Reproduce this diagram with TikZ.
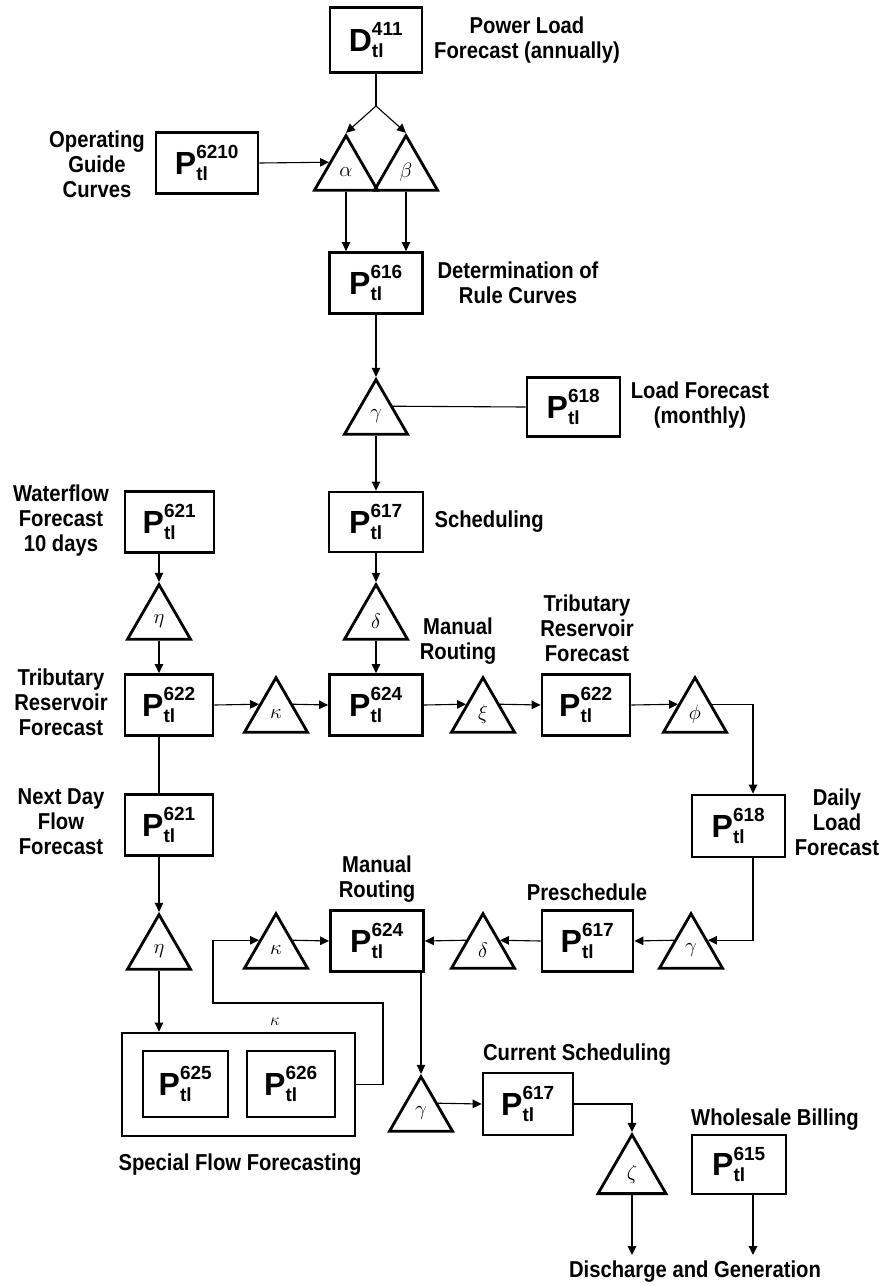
\documentclass[tikz,border=0pt]{standalone}
\usepackage{amsmath}
\usepackage{fontspec}
\setmainfont{Liberation Sans}[FakeStretch=0.88]
\newfontfamily\boxfont{Liberation Sans}
\usetikzlibrary{shapes.geometric,arrows.meta}
\DeclareMathSizes{32}{32}{19}{15}
\newcommand{\pn}[2]{$\text{#1}^{\text{#2}}_{\text{tl}}$}

\begin{document}
\begin{tikzpicture}[x=1pt, y=-1pt, line width=1.1pt,
	>={Triangle[length=9pt,width=8.5pt]},
	box/.style={draw, line width=2.8pt, inner sep=0pt, minimum width=93pt, minimum height=61pt,
		font=\boxfont\bfseries\fontsize{32}{32}\selectfont},
	tri/.style={regular polygon, regular polygon sides=3, draw, line width=2.8pt, inner sep=0pt,
		minimum size=72.7pt, font=\fontsize{21}{21}\selectfont},
	lbl/.style={align=center, inner sep=0pt, font=\bfseries\fontsize{23}{25}\selectfont}]
\useasboundingbox (0,0) rectangle (885,1286);

% top: annual load and rule curves
\node[box, minimum width=92pt, minimum height=65pt] (D411) at (376,40) {\pn{D}{411}};
\node[box, minimum width=102pt] (P6210) at (207,163) {\pn{P}{6210}};
\node[tri] (alpha) at (346,172) {$\alpha$};
\node[tri] (beta) at (406,172) {$\beta$};
\node[box] (P616) at (376,283) {\pn{P}{616}};
\node[tri] (gamma1) at (376,416) {$\gamma$};
\node[box, minimum height=59pt] (P618m) at (573.5,407) {\pn{P}{618}};
\node[box, minimum width=94pt, minimum height=60pt] (P617) at (376,522) {\pn{P}{617}};
\node[box, minimum width=89pt] (P621) at (169.5,522) {\pn{P}{621}};
\node[tri] (eta1) at (159,621) {$\eta$};
\node[tri] (delta1) at (376,621) {$\delta$};
\coordinate (split) at (376,106);

% middle row
\node[box, minimum width=88pt] (P622) at (169,705) {\pn{P}{622}};
\node[tri] (kappa1) at (276,714) {$\kappa$};
\node[box] (P624) at (376,705) {\pn{P}{624}};
\node[tri] (xi) at (483,714) {$\xi$};
\node[box, minimum width=88pt] (P622r) at (586,705) {\pn{P}{622}};
\node[tri] (phi) at (695,714) {$\phi$};
\node[box, minimum height=62pt] (P618d) at (738.5,826) {\pn{P}{618}};
\node[box, minimum width=88pt] (P621n) at (169,825) {\pn{P}{621}};
\coordinate (tapD) at (753,826);

% lower row
\node[tri] (eta2) at (159,951) {$\eta$};
\node[tri] (kappa2) at (276,950) {$\kappa$};
\node[box] (P624b) at (377,941) {\pn{P}{624}};
\node[tri] (delta2) at (483,950) {$\delta$};
\node[box, minimum width=91pt] (P617b) at (587.5,941) {\pn{P}{617}};
\node[tri] (gamma3) at (691,950) {$\gamma$};
\node[draw, line width=2.8pt, minimum width=233pt, minimum height=103pt] (bigbox) at (238.5,1084.5) {};
\node[box, minimum width=85pt, minimum height=66pt] (P625) at (185.5,1084) {\pn{P}{625}};
\node[box, minimum width=88pt, minimum height=66pt] (P626) at (291,1084) {\pn{P}{626}};
\node[font=\fontsize{17}{17}\selectfont, inner sep=0pt] (kappalbl) at (275,1022) {$\kappa$};
\coordinate (fbR) at (383,1003);
\coordinate (fbL) at (213,1003);
\node[tri] (gamma2) at (421,1113) {$\gamma$};
\node[box, minimum width=90pt, minimum height=62pt] (P617c) at (528,1104) {\pn{P}{617}};
\node[tri, minimum size=78.5pt] (zeta) at (632,1174) {$\zeta$};
\node[box, minimum width=94pt, minimum height=59pt] (P615) at (739,1164.5) {\pn{P}{615}};
\coordinate (out1) at (632,1255);
\coordinate (out2) at (753,1255);

% labels
\node[lbl] (lPower) at (527,40) {Power Load\\Forecast (annually)};
\node[lbl] (lOper) at (97,164) {Operating\\Guide\\Curves};
\node[lbl] (lRule) at (518,283) {Determination of\\Rule Curves};
\node[lbl] (lMonth) at (700,405) {Load Forecast\\(monthly)};
\node[lbl, anchor=west] (lSched) at (434,522) {Scheduling};
\node[lbl] (lWater) at (61,521) {Waterflow\\Forecast\\10 days};
\node[lbl] (lTribL) at (61,702) {Tributary\\Reservoir\\Forecast};
\node[lbl] (lManA) at (458,641) {Manual\\Routing};
\node[lbl] (lTribR) at (587,628) {Tributary\\Reservoir\\Forecast};
\node[lbl] (lNext) at (61,822) {Next Day\\Flow\\Forecast};
\node[lbl] (lDaily) at (837,822) {Daily\\Load\\Forecast};
\node[lbl] (lManB) at (377,879) {Manual\\Routing};
\node[lbl] (lPre) at (587,892) {Preschedule};
\node[lbl] (lCur) at (577,1055) {Current Scheduling};
\node[lbl] (lWhole) at (775,1120) {Wholesale Billing};
\node[lbl] (lSpecial) at (240,1165) {Special Flow Forecasting};
\node[lbl] (lDis) at (695,1272) {Discharge and Generation};

% connectors
\draw (D411.south) -- (split);
\draw[->] (split) -- (alpha.corner 1);
\draw[->] (split) -- (beta.corner 1);
\draw[->] (P6210.east) -- (alpha.side 1);
\draw[->] (alpha.side 2) -- (alpha.side 2 |- P616.north);
\draw[->] (beta.side 2) -- (beta.side 2 |- P616.north);
\draw[->] (P616.south) -- (gamma1.corner 1);
\draw (gamma1.side 3) -- (P618m.west);
\draw[->] (gamma1.side 2) -- (P617.north);
\draw[->] (P617.south) -- (delta1.corner 1);
\draw[->] (delta1.side 2) -- (P624.north);
\draw[->] (P621.south -| eta1) -- (eta1.corner 1);
\draw[->] (eta1.side 2) -- (eta1.side 2 |- P622.north);
\draw[->] (P622.east) -- (kappa1.side 1);
\draw[->] (kappa1.side 3) -- (P624.west);
\draw[->] (P624.east) -- (xi.side 1);
\draw[->] (xi.side 3) -- (P622r.west);
\draw[->] (P622r.east) -- (phi.side 1);
\draw[->] (phi.side 3) -| (P618d.north -| tapD);
\draw (P622.south -| eta1) -- (P621n.north -| eta1);
\draw[->] (P621n.south -| eta2) -- (eta2.corner 1);
\draw[->] (eta2.side 2) -- (eta2.side 2 |- bigbox.north);
\draw[->] (P618d.south -| tapD) |- (gamma3.side 3);
\draw[->] (gamma3.side 1) -- (P617b.east);
\draw[->] (P617b.west) -- (delta2.side 3);
\draw[->] (delta2.side 1) -- (P624b.east);
\draw[->] (bigbox.east) -| (fbR) -- (fbL) |- (kappa2.side 1);
\draw[->] (kappa2.side 3) -- (P624b.west);
\draw[->] (P624b.south -| gamma2) -- (gamma2.corner 1);
\draw[->] (gamma2.side 3) -- (P617c.west);
\draw[->] (P617c.east) -| (zeta.corner 1);
\draw[->] (zeta.side 2) -- (out1);
\draw[->] (P615.south -| out2) -- (out2);
\end{tikzpicture}
\end{document}
